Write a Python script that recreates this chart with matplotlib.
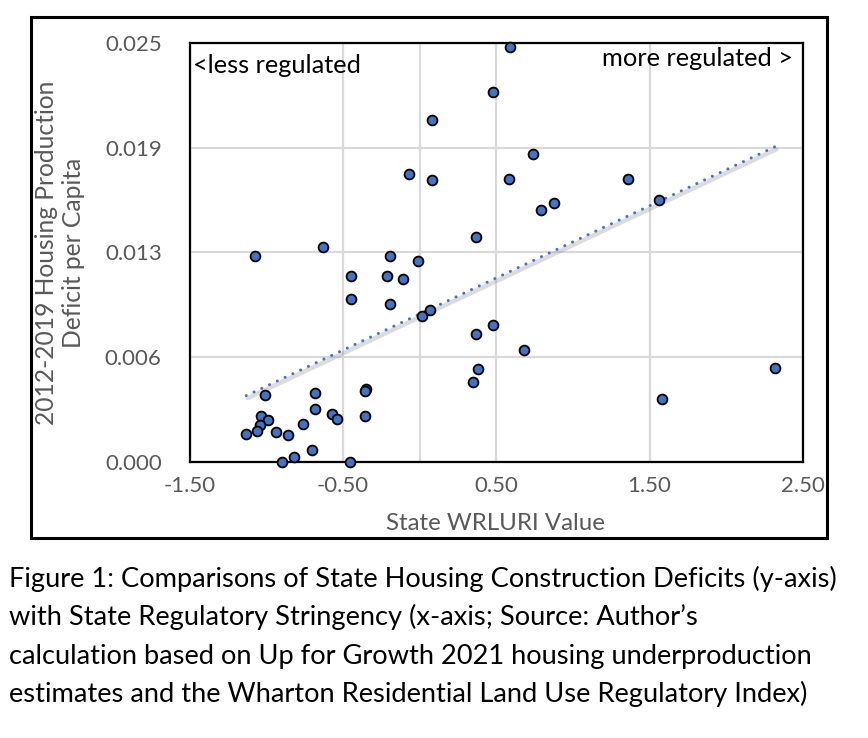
import matplotlib
matplotlib.use("Agg")
import matplotlib.pyplot as plt
from matplotlib.patches import Rectangle
from matplotlib.transforms import offset_copy
import numpy as np

plt.rcParams['font.family'] = ['Lato', 'DejaVu Sans']

# State WRLURI value vs 2012-2019 housing production deficit per capita (50 states)
wrluri = [0.589, 0.478, 0.079, 0.739, -0.069, 0.079, 0.580, 1.359, 1.561, 0.876,
          0.789, 0.368, -0.632, -1.071, -0.190, -0.012, -0.450, -0.211, -0.110, -0.450,
          -0.190, 0.068, 0.019, 0.478, 0.368, 0.679, 0.379, 0.348, 1.578, 2.317,
          -1.011, -0.679, -0.351, -0.359, -1.032, -0.987, -1.039, -1.061, -1.130, -0.939,
          -0.859, -0.760, -0.679, -0.571, -0.540, -0.359, -0.699, -0.820, -0.898, -0.452]
deficit = [0.02474, 0.02206, 0.02039, 0.01837, 0.01715, 0.01682, 0.01688, 0.01688, 0.01563, 0.01542,
           0.01503, 0.01344, 0.01285, 0.01229, 0.01229, 0.01202, 0.01108, 0.01110, 0.01095, 0.00973,
           0.00945, 0.00907, 0.00869, 0.00818, 0.00764, 0.00667, 0.00558, 0.00478, 0.00375, 0.00564,
           0.00401, 0.00411, 0.00436, 0.00425, 0.00275, 0.00251, 0.00222, 0.00189, 0.00169, 0.00182,
           0.00163, 0.00231, 0.00319, 0.00290, 0.00260, 0.00278, 0.00074, 0.00032, 0.00000, 0.00000]

x_ticks = [-1.5, -0.5, 0.5, 1.5, 2.5]
x_ticklabels = ['-1.50', '-0.50', '0.50', '1.50', '2.50']
y_ticks = [0, 0.00625, 0.0125, 0.01875, 0.025]
y_ticklabels = ['0.000', '0.006', '0.013', '0.019', '0.025']

caption = ["Figure 1: Comparisons of State Housing Construction Deficits (y-axis)",
           "with State Regulatory Stringency (x-axis; Source: Author\u2019s",
           "calculation based on Up for Growth 2021 housing underproduction",
           "estimates and the Wharton Residential Land Use Regulatory Index)"]

W, H = 868, 738
fig = plt.figure(figsize=(W / 100, H / 100), dpi=100)
ax = fig.add_axes([189.5 / W, 1 - 462.3 / H, 613.5 / W, 419.6 / H])

blue = '#4472C4'
grey_txt = '#595959'
grid_c = '#D9D9D9'

ax.set_xlim(-1.5, 2.5)
ax.set_ylim(0, 0.025)
ax.set_xticks(x_ticks)
ax.set_xticklabels(x_ticklabels)
ax.set_yticks(y_ticks)
ax.set_yticklabels(y_ticklabels)
ax.tick_params(length=0, labelsize=16, labelcolor=grey_txt)
ax.tick_params(axis='y', pad=20)
ax.tick_params(axis='x', pad=10)
ax.grid(True, color=grid_c, lw=1.6, zorder=0)
ax.axvline(0, color=grid_c, lw=1.6, zorder=0)
ax.set_axisbelow(True)
for s in ax.spines.values():
    s.set_linewidth(1.6)
    s.set_color('black')

# linear trendline (Excel style, dotted with soft shadow)
k, b = np.polyfit(wrluri, deficit, 1)
tx = np.array([min(wrluri), max(wrluri)])
shadow = offset_copy(ax.transData, fig=fig, x=1.5, y=-2.5, units='dots')
ax.plot(tx, k * tx + b, color='0.55', alpha=0.3, lw=3.2, solid_capstyle='round',
        transform=shadow, zorder=1)
ax.plot(tx, k * tx + b, color=blue, lw=2.2, linestyle=(0, (0.01, 2.8)),
        dash_capstyle='round', zorder=2)

ax.scatter(wrluri, deficit, s=50, color=blue, edgecolor='black', linewidth=1.3,
           zorder=4, clip_on=False)

ax.text(0.006, 0.973, '<less regulated', transform=ax.transAxes, ha='left', va='top', fontsize=18.3)
ax.text(0.984, 0.99, 'more regulated >', transform=ax.transAxes, ha='right', va='top', fontsize=18.3)

fig.text(495.5 / W, 1 - 523 / H, 'State WRLURI Value', ha='center', va='center',
         fontsize=17.3, color=grey_txt)
fig.text(60 / W, 1 - 253 / H, '2012-2019 Housing Production\nDeficit per Capita', ha='center',
         va='center', rotation=90, fontsize=17.7, color=grey_txt, linespacing=1.25)

# outer chart frame
fig.add_artist(Rectangle((30.7 / W, 1 - 537.7 / H), 796 / W, 521 / H, transform=fig.transFigure,
                         fill=False, edgecolor='black', lw=2.2))

for i, line in enumerate(caption):
    fig.text(9 / W, 1 - (587 + 38.3 * i) / H, line, ha='left', va='baseline', fontsize=19.6)

fig.savefig('out.png', dpi=100)
